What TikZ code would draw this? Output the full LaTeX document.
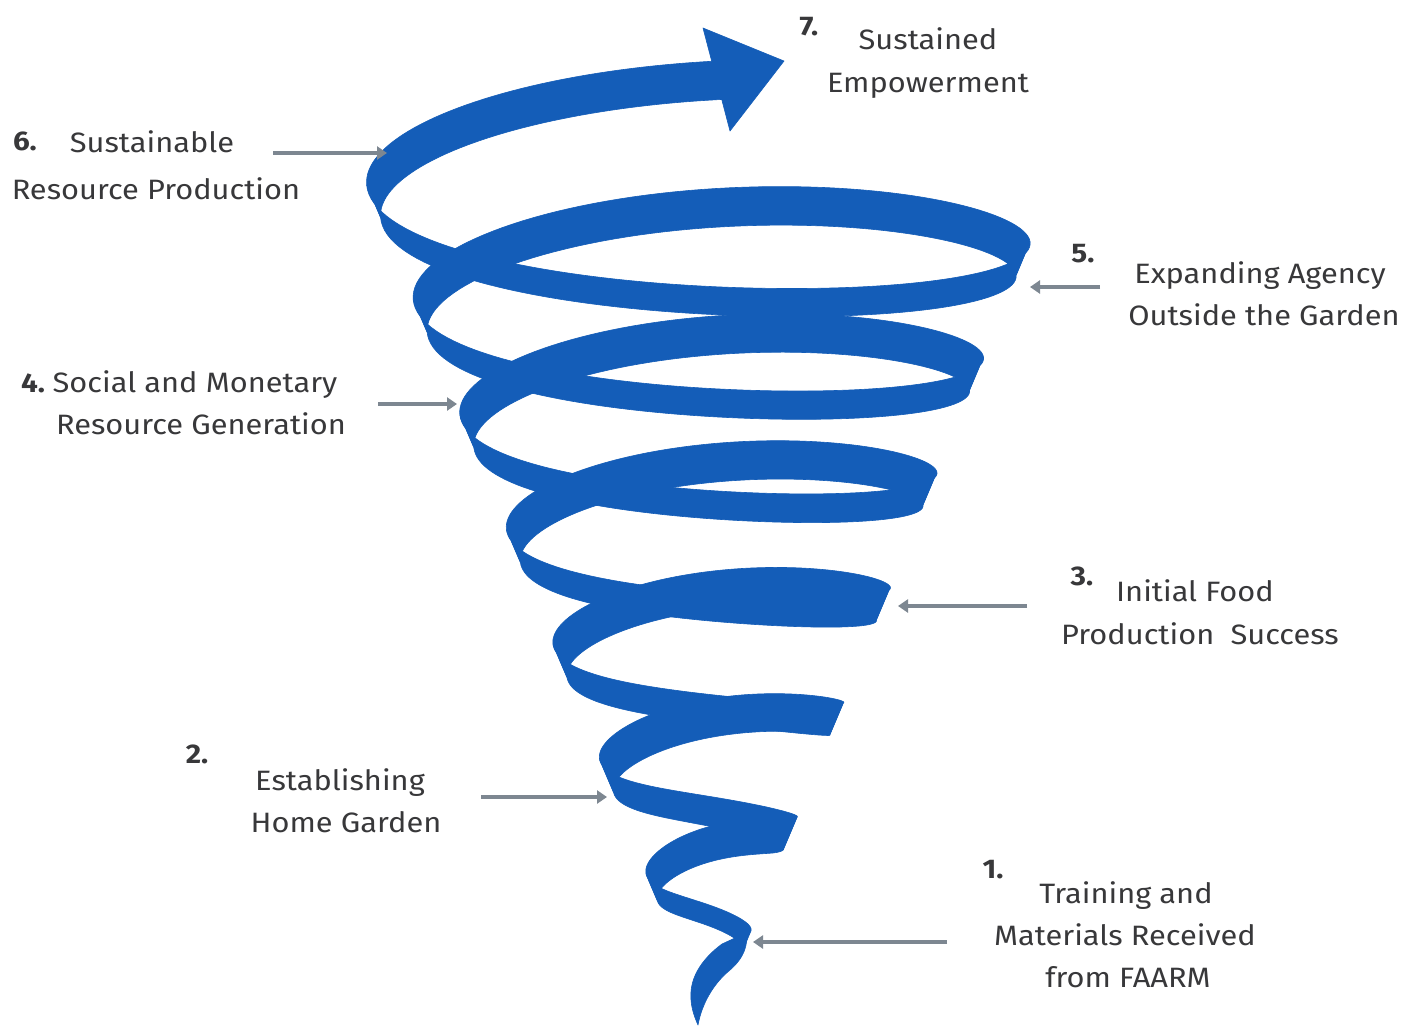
\documentclass[tikz,border=0pt]{standalone}
\usepackage{fontspec}
\setmainfont{Fira Sans}[FakeStretch=1.1]
\usetikzlibrary{arrows.meta}
\definecolor{spiralblue}{RGB}{20,93,184}
\definecolor{txtgray}{RGB}{56,56,58}
\definecolor{arrgray}{RGB}{125,135,145}
\begin{document}
\begin{tikzpicture}[x=1pt,y=-1pt,
  rib/.style={fill=spiralblue,draw=spiralblue,line width=0.6pt,line join=round},
  lbl/.style={anchor=base,inner sep=0pt,text=txtgray,font=\fontsize{28}{32}\selectfont},
  num/.style={anchor=base,inner sep=0pt,text=txtgray,font=\fontsize{27}{32}\selectfont\bfseries},
  pointer/.style={draw=arrgray,line width=3.4pt,-{Triangle[length=10pt,width=13pt]}},
  declare function={
    rr(\s)=40.5+46.6*\s;
    ff(\s)=min(1,0.58+0.45*\s);
    eb(\s)=10+12.5*\s;
    ef(\s)=max(2,-8+13*\s);
    EE(\s)=0.5*(eb(\s)+ef(\s))*sin(360*\s)+0.5*(ef(\s)-eb(\s))*sin(360*\s)*sin(360*\s);
    wd(\s)=(33-2*sin(360*\s))*ff(\s);
    dd(\s)=14*ff(\s);
    xT(\s)=710+rr(\s)*cos(360*\s);
    yT(\s)=932-115*\s+EE(\s);
    xB(\s)=710+(rr(\s)-dd(\s))*cos(360*\s);
    yB(\s)=932-115*\s+wd(\s)+EE(\s)*(1-dd(\s)/rr(\s));
  }]
\useasboundingbox (0,0) rectangle (1414,1026);
\fill[white] (0,0) rectangle (1414,1026);
% spiral ribbon, one half turn at a time
\foreach \k in {0,...,12}{
  \pgfmathsetmacro{\a}{\k/2}
  \pgfmathsetmacro{\b}{(\k+1)/2}
  \fill[rib] plot[domain=\a:\b,samples=70,variable=\s] ({xT(\s)},{yT(\s)})
     -- plot[domain=\b:\a,samples=70,variable=\s] ({xB(\s)},{yB(\s)}) -- cycle;
}
% last rising band to the arrow head
\fill[rib] plot[domain=6.5:6.77,samples=50,variable=\s] ({xT(\s)},{yT(\s)})
     -- plot[domain=6.77:6.5,samples=50,variable=\s] ({xB(\s)},{yB(\s)}) -- cycle;
% arrow head
\fill[rib] (703,28) -- (784,61) -- (730,131) -- cycle;
% bottom tip
\fill[rib] (748,932) -- (722,944) .. controls (703,958) and (692,975) .. (691,992)
  .. controls (690,1005) and (694,1016) .. (698,1025)
  .. controls (702,1003) and (714,983) .. (730,970)
  .. controls (738,963) and (744,955) .. (746,945) -- cycle;

% labels
\node[num] (n7) at (809,35) {7.};
\node[lbl] (t7a) at (928,49) {Sustained};
\node[lbl] (t7b) at (928,92) {Empowerment};
\node[num] (n6) at (25,150) {6.};
\node[lbl] (t6a) at (152,152) {Sustainable};
\node[lbl] (t6b) at (156,199) {Resource Production};
\node[num] (n5) at (1083,262) {5.};
\node[lbl] (t5a) at (1260,283) {Expanding Agency};
\node[lbl] (t5b) at (1264,325) {Outside the Garden};
\node[num] (n4) at (33,392) {4.};
\node[lbl] (t4a) at (195,392) {Social and Monetary};
\node[lbl] (t4b) at (201,434) {Resource Generation};
\node[num] (n3) at (1082,585) {3.};
\node[lbl] (t3a) at (1195,601) {Initial Food};
\node[lbl] (t3b) at (1200,644) {Production\ \ Success};
\node[num] (n2) at (197,763) {2.};
\node[lbl] (t2a) at (340,790) {Establishing};
\node[lbl] (t2b) at (346,832) {Home Garden};
\node[num] (n1) at (993,878) {1.};
\node[lbl] (t1a) at (1126,903) {Training and};
\node[lbl] (t1b) at (1125,945) {Materials Received};
\node[lbl] (t1c) at (1128,987) {from FAARM};

% pointers
\coordinate (p6s) at (273,153); \coordinate (p6e) at (387,153);
\coordinate (p4s) at (378,404); \coordinate (p4e) at (457,404);
\coordinate (p2s) at (481,797); \coordinate (p2e) at (607,797);
\coordinate (p5s) at (1100,287); \coordinate (p5e) at (1030,287);
\coordinate (p3s) at (1027,606); \coordinate (p3e) at (898,606);
\coordinate (p1s) at (947,942); \coordinate (p1e) at (753,942);
\draw[pointer] (p6s) -- (p6e);
\draw[pointer] (p4s) -- (p4e);
\draw[pointer] (p2s) -- (p2e);
\draw[pointer] (p5s) -- (p5e);
\draw[pointer] (p3s) -- (p3e);
\draw[pointer] (p1s) -- (p1e);
\end{tikzpicture}
\end{document}
